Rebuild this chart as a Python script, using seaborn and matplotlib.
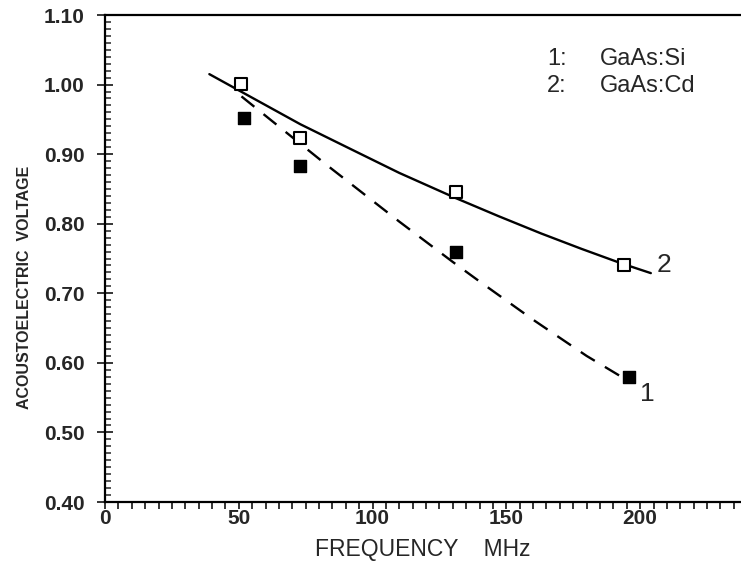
import matplotlib
matplotlib.use("Agg")
import matplotlib.pyplot as plt
from matplotlib.ticker import MultipleLocator
import seaborn as sns
import pandas as pd

# Measured points
si_freq = [52, 73, 131, 196]
si_volt = [0.952, 0.883, 0.760, 0.580]
cd_freq = [51, 73, 131, 194]
cd_volt = [1.001, 0.923, 0.846, 0.741]

# Fit curves
si_fit_freq = [51, 83, 110, 130, 140, 160, 180, 193]
si_fit_volt = [0.983, 0.884, 0.803, 0.745, 0.717, 0.662, 0.610, 0.580]
cd_fit_freq = [39, 56, 73, 92, 110, 131, 147, 163, 178, 193, 204]
cd_fit_volt = [1.015, 0.979, 0.943, 0.907, 0.873, 0.837, 0.811, 0.786, 0.764, 0.743, 0.729]

legend_labels = ["1:", "2:"]
legend_names = ["GaAs:Si", "GaAs:Cd"]

sns.set_style("ticks")
plt.rcParams["font.family"] = ["Liberation Sans", "DejaVu Sans"]

fig = plt.figure(figsize=(7.41, 5.64), dpi=100)
ax = fig.add_axes([0.1417, 0.1099, 0.8583, 0.8635])

si_fit = pd.DataFrame({"f": si_fit_freq, "v": si_fit_volt})
cd_fit = pd.DataFrame({"f": cd_fit_freq, "v": cd_fit_volt})
sns.lineplot(data=cd_fit, x="f", y="v", ax=ax, color="black", lw=1.7, sort=False)
sns.lineplot(data=si_fit, x="f", y="v", ax=ax, color="black", lw=1.7, sort=False,
             dashes=False)
ax.lines[-1].set_dashes([7, 5])

si_df = pd.DataFrame({"f": si_freq, "v": si_volt})
cd_df = pd.DataFrame({"f": cd_freq, "v": cd_volt})
sns.scatterplot(data=si_df, x="f", y="v", ax=ax, marker="s", s=85,
                color="black", edgecolor="black", linewidth=1, zorder=5)
sns.scatterplot(data=cd_df, x="f", y="v", ax=ax, marker="s", s=85,
                facecolor="white", edgecolor="black", linewidth=1.5, zorder=5)

ax.set_xlim(0, 237.7)
ax.set_ylim(0.40, 1.10)
ax.xaxis.set_major_locator(MultipleLocator(50))
ax.xaxis.set_minor_locator(MultipleLocator(5))
ax.yaxis.set_major_locator(MultipleLocator(0.10))
ax.yaxis.set_minor_locator(MultipleLocator(0.01))
ax.yaxis.set_major_formatter(matplotlib.ticker.FormatStrFormatter("%.2f"))

ax.tick_params(axis="x", which="both", direction="out", length=5, width=1.3,
               labelsize=15, pad=0)
ax.tick_params(axis="y", which="major", direction="inout", length=11, width=1.3,
               labelsize=15, pad=9)
ax.tick_params(axis="y", which="minor", direction="in", length=4.5, width=1.1)
for lab in ax.get_xticklabels() + ax.get_yticklabels():
    lab.set_fontweight("bold")

for side in ["left", "bottom", "top"]:
    ax.spines[side].set_linewidth(1.6)
    ax.spines[side].set_color("black")
ax.spines["right"].set_visible(False)

ax.set_xlabel("FREQUENCY    MHz", fontsize=16.5, labelpad=7)
ax.set_ylabel("ACOUSTOELECTRIC  VOLTAGE", fontsize=11.5, fontweight="bold")
ax.yaxis.set_label_coords(-0.115, 0.441)

# curve labels
ax.text(200, 0.572, "1", fontsize=19, ha="left", va="top")
ax.text(206, 0.741, "2", fontsize=19, ha="left", va="center")

# legend text
for i, (a, b) in enumerate(zip(legend_labels, legend_names)):
    yv = 1.037 - i * 0.039
    ax.text(169, yv, a, fontsize=17, ha="center", va="center")
    ax.text(185, yv, b, fontsize=17, ha="left", va="center")

fig.savefig("out.png", dpi=100)
